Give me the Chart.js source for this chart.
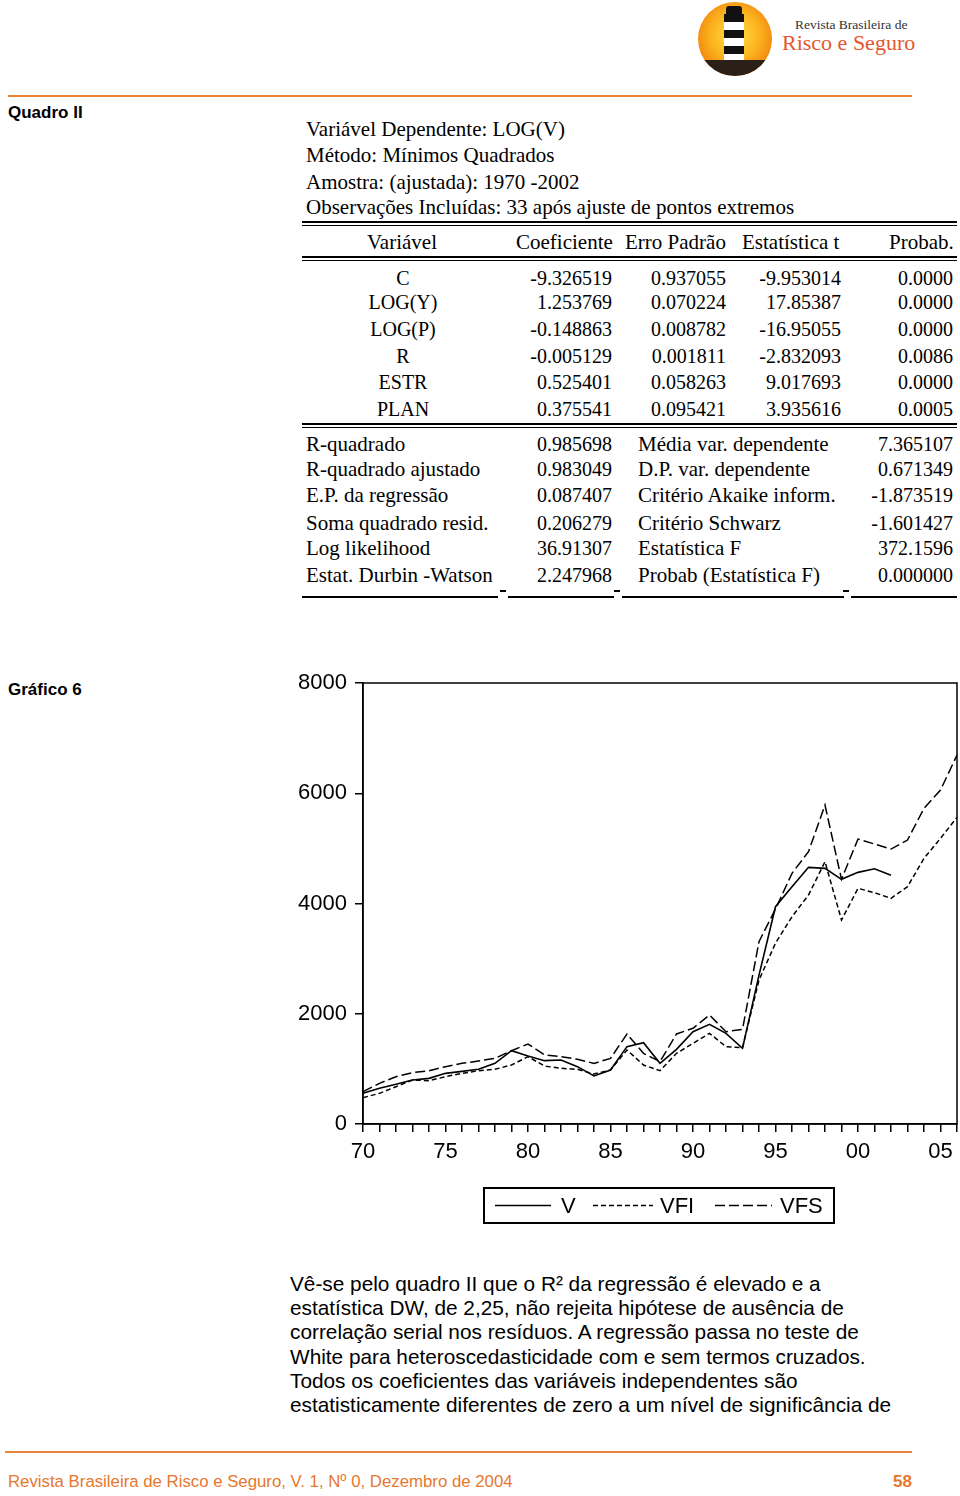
<!DOCTYPE html>
<html>
<head>
<meta charset="utf-8">
<script src="https://cdn.jsdelivr.net/npm/chart.js@4.4.1/dist/chart.umd.min.js"></script>
<style>
  body { margin: 0; width: 960px; height: 1496px; background: #fff; position: relative; overflow: hidden; font-family: "Liberation Sans", Arial, sans-serif; color: #000; }
  .abs { position: absolute; white-space: nowrap; }
  .rule { position: absolute; background: #e8833a; height: 2px; }
  .bold { font-weight: bold; font-size: 17px; }
  .tbl { font-family: "Liberation Serif", "Times New Roman", serif; font-size: 20px; line-height: 22px; }
  .txt { font-size: 21px; }
  .r { text-align: right; }
  .c { text-align: center; }
  .hl { position: absolute; background: #000; height: 2px; }
  .para { font-size: 20.8px; line-height: 24.2px; }
  #logo { position: absolute; left: 698px; top: 2px; width: 74px; height: 74px; border-radius: 50%; background: radial-gradient(circle at 50% 45%, #ffe04a 0%, #fbb21c 45%, #ef7d0f 80%, #5a2a0a 100%); overflow: hidden; }
  #logo .tower { position: absolute; left: 26px; top: 12px; width: 20px; height: 52px; background: repeating-linear-gradient(#111 0 8px, #fff 8px 16px); }
  #logo .lamp { position: absolute; left: 28px; top: 4px; width: 16px; height: 10px; background: #111; border-radius: 3px 3px 0 0; }
  #logo .rock { position: absolute; left: 0; top: 58px; width: 74px; height: 20px; background: #2a2018; }
  #chartBox { position: absolute; left: 280px; top: 660px; width: 680px; height: 580px; }
</style>
</head>
<body>
<div id="logo"><div class="lamp"></div><div class="tower"></div><div class="rock"></div></div>
<div class="abs" style="left:795px;top:17px;font-family:'Liberation Serif',serif;font-size:13.5px;color:#333;">Revista Brasileira de</div>
<div class="abs" style="left:782px;top:30px;font-family:'Liberation Serif',serif;font-size:22px;color:#e4572e;">Risco e Seguro</div>
<div class="rule" style="left:8px;top:95px;width:904px;"></div>

<div class="abs bold" style="left:8px;top:103px;">Quadro II</div>

<div class="abs tbl txt" style="left:306px;top:118px;">Variável Dependente: LOG(V)</div>
<div class="abs tbl txt" style="left:306px;top:144px;">Método: Mínimos Quadrados</div>
<div class="abs tbl txt" style="left:306px;top:171px;">Amostra: (ajustada): 1970 -2002</div>
<div class="abs tbl txt" style="left:306px;top:196px;">Observações Incluídas: 33 após ajuste de pontos extremos</div>

<div class="hl" style="left:302px;top:221px;width:655px;"></div>
<div class="hl" style="left:302px;top:225px;width:655px;height:1px;"></div>
<div class="abs tbl txt" style="left:367px;top:231px;">Variável</div>
<div class="abs tbl txt" style="left:516px;top:231px;">Coeficiente</div>
<div class="abs tbl txt" style="left:625px;top:231px;">Erro Padrão</div>
<div class="abs tbl txt" style="left:742px;top:231px;">Estatística t</div>
<div class="abs tbl txt" style="left:889px;top:231px;">Probab.</div>
<div class="hl" style="left:302px;top:256px;width:655px;"></div>
<div class="hl" style="left:302px;top:260px;width:655px;height:1px;"></div>

<div id="coefRows"></div>

<div class="hl" style="left:302px;top:423px;width:655px;"></div>
<div class="hl" style="left:302px;top:427px;width:655px;height:1px;"></div>

<div id="statRows"></div>

<div class="hl" style="left:302px;top:596px;width:196px;height:1.5px;"></div>
<div class="hl" style="left:508px;top:596px;width:106px;height:1.5px;"></div>
<div class="hl" style="left:622px;top:596px;width:222px;height:1.5px;"></div>
<div class="hl" style="left:851px;top:596px;width:106px;height:1.5px;"></div>
<div class="hl" style="left:500px;top:590px;width:6px;height:1.5px;"></div>
<div class="hl" style="left:614px;top:590px;width:6px;height:1.5px;"></div>
<div class="hl" style="left:843px;top:590px;width:6px;height:1.5px;"></div>

<div class="abs bold" style="left:8px;top:680px;">Gráfico 6</div>

<div id="chartBox"><canvas id="chart"></canvas></div>

<div class="abs para" style="left:290px;top:1272px;">Vê-se pelo quadro II que o R² da regressão é elevado e a<br>estatística DW, de 2,25, não rejeita hipótese de ausência de<br>correlação serial nos resíduos. A regressão passa no teste de<br>White para heteroscedasticidade com e sem termos cruzados.<br>Todos os coeficientes das variáveis independentes são<br>estatisticamente diferentes de zero a um nível de significância de</div>

<div class="rule" style="left:5px;top:1451px;width:907px;"></div>
<div class="abs" style="left:8px;top:1472px;font-size:16.8px;color:#e8772e;">Revista Brasileira de Risco e Seguro, V. 1, Nº 0, Dezembro de 2004</div>
<div class="abs" style="left:893px;top:1472px;font-size:17px;font-weight:bold;color:#e8772e;">58</div>

<script>
// regression table (Quadro II)
const coefNames = ['C', 'LOG(Y)', 'LOG(P)', 'R', 'ESTR', 'PLAN'];
const coefValues = ['-9.326519', '1.253769', '-0.148863', '-0.005129', '0.525401', '0.375541'];
const stdErrors = ['0.937055', '0.070224', '0.008782', '0.001811', '0.058263', '0.095421'];
const tStats = ['-9.953014', '17.85387', '-16.95055', '-2.832093', '9.017693', '3.935616'];
const probs = ['0.0000', '0.0000', '0.0000', '0.0086', '0.0000', '0.0005'];

const statLabelsLeft = ['R-quadrado', 'R-quadrado ajustado', 'E.P. da regressão', 'Soma quadrado resid.', 'Log likelihood', 'Estat. Durbin -Watson'];
const statValuesLeft = ['0.985698', '0.983049', '0.087407', '0.206279', '36.91307', '2.247968'];
const statLabelsRight = ['Média var. dependente', 'D.P. var. dependente', 'Critério Akaike inform.', 'Critério Schwarz', 'Estatística F', 'Probab (Estatística F)'];
const statValuesRight = ['7.365107', '0.671349', '-1.873519', '-1.601427', '372.1596', '0.000000'];

// Gráfico 6 data
const years = [1970, 1971, 1972, 1973, 1974, 1975, 1976, 1977, 1978, 1979,
               1980, 1981, 1982, 1983, 1984, 1985, 1986, 1987, 1988, 1989,
               1990, 1991, 1992, 1993, 1994, 1995, 1996, 1997, 1998, 1999,
               2000, 2001, 2002, 2003, 2004, 2005, 2006];
const seriesV = [556, 647, 720, 798, 828, 919, 955, 992, 1100, 1330,
                 1233, 1149, 1161, 1040, 871, 980, 1403, 1475, 1100, 1355,
                 1675, 1808, 1645, 1373, 2700, 3942, 4305, 4656, 4638, 4438,
                 4565, 4631, 4511, null, null, null, null];
const seriesVFI = [478, 556, 677, 798, 786, 858, 919, 967, 992, 1070,
                   1221, 1052, 1010, 992, 907, 980, 1342, 1070, 967, 1282,
                   1463, 1645, 1403, 1385, 2612, 3280, 3761, 4154, 4758, 3700,
                   4275, 4196, 4094, 4305, 4819, 5182, 5563];
const seriesVFS = [586, 738, 858, 931, 967, 1040, 1100, 1143, 1191, 1330,
                   1451, 1252, 1221, 1173, 1100, 1191, 1633, 1282, 1131, 1633,
                   1736, 1977, 1675, 1717, 3307, 3900, 4547, 4940, 5786, 4438,
                   5169, 5079, 4988, 5151, 5726, 6058, 6693];
const yTicks = [0, 2000, 4000, 6000, 8000];

const coefRows = document.getElementById('coefRows');
const coefTops = [267, 291, 318, 345, 371, 398];
coefNames.forEach((name, i) => {
    const t = coefTops[i];
    coefRows.innerHTML += `
        <div class="abs tbl c" style="left:353px;top:${t}px;width:100px;">${name}</div>
        <div class="abs tbl r" style="left:492px;top:${t}px;width:120px;">${coefValues[i]}</div>
        <div class="abs tbl r" style="left:606px;top:${t}px;width:120px;">${stdErrors[i]}</div>
        <div class="abs tbl r" style="left:721px;top:${t}px;width:120px;">${tStats[i]}</div>
        <div class="abs tbl r" style="left:833px;top:${t}px;width:120px;">${probs[i]}</div>`;
});

const statRows = document.getElementById('statRows');
const statTops = [433, 458, 484, 512, 537, 564];
statLabelsLeft.forEach((label, i) => {
    const t = statTops[i];
    statRows.innerHTML += `
        <div class="abs tbl txt" style="left:306px;top:${t}px;">${label}</div>
        <div class="abs tbl r" style="left:492px;top:${t}px;width:120px;">${statValuesLeft[i]}</div>
        <div class="abs tbl txt" style="left:638px;top:${t}px;">${statLabelsRight[i]}</div>
        <div class="abs tbl r" style="left:833px;top:${t}px;width:120px;">${statValuesRight[i]}</div>`;
});

Chart.defaults.font.family = '"Liberation Sans", Arial, sans-serif';
Chart.defaults.color = '#000';

// box around the plot area
const frame = {
    id: 'frame',
    afterDraw(chart) {
        const { ctx, chartArea: a } = chart;
        ctx.save();
        ctx.strokeStyle = '#000';
        ctx.lineWidth = 1.5;
        ctx.strokeRect(a.left, a.top, a.right - a.left, a.bottom - a.top);
        ctx.restore();
    }
};

// EViews style legend box under the axis
const boxLegend = {
    id: 'boxLegend',
    afterDraw(chart) {
        const ctx = chart.ctx;
        const x0 = 204, y0 = 528, w = 350, h = 35;
        const items = [
            { lx: 215, len: 56, tx: 281 },
            { lx: 313, len: 60, tx: 380 },
            { lx: 435, len: 57, tx: 500 }
        ];
        ctx.save();
        ctx.strokeStyle = '#000';
        ctx.lineWidth = 2;
        ctx.strokeRect(x0, y0, w, h);
        ctx.font = '22px "Liberation Sans", Arial, sans-serif';
        ctx.fillStyle = '#000';
        ctx.textBaseline = 'middle';
        chart.data.datasets.forEach((ds, i) => {
            const it = items[i];
            const y = y0 + h / 2;
            ctx.beginPath();
            ctx.lineWidth = ds.borderWidth;
            ctx.setLineDash(ds.borderDash || []);
            ctx.moveTo(it.lx, y);
            ctx.lineTo(it.lx + it.len, y);
            ctx.stroke();
            ctx.setLineDash([]);
            ctx.fillText(ds.label, it.tx, y + 1);
        });
        ctx.restore();
    }
};

new Chart(document.getElementById('chart'), {
    type: 'line',
    data: {
        labels: years,
        datasets: [
            { label: 'V', data: seriesV, borderColor: '#000', borderWidth: 1.6, borderDash: [], pointRadius: 0, tension: 0, spanGaps: false },
            { label: 'VFI', data: seriesVFI, borderColor: '#000', borderWidth: 1.5, borderDash: [5, 3], pointRadius: 0, tension: 0 },
            { label: 'VFS', data: seriesVFS, borderColor: '#000', borderWidth: 1.5, borderDash: [10, 4], pointRadius: 0, tension: 0 }
        ]
    },
    options: {
        responsive: true,
        maintainAspectRatio: false,
        animation: false,
        layout: { padding: { top: 23, right: 3, left: 0, bottom: 80 } },
        plugins: { legend: { display: false }, tooltip: { enabled: false } },
        scales: {
            x: {
                type: 'category',
                offset: false,
                grid: { drawOnChartArea: false, drawTicks: true, tickLength: 8, color: '#000', lineWidth: 1.5 },
                border: { color: '#000', width: 1.5 },
                ticks: {
                    autoSkip: false,
                    maxRotation: 0,
                    padding: 7,
                    font: { size: 22 },
                    callback(value) {
                        const yr = this.getLabelForValue(value);
                        return yr % 5 === 0 ? String(yr).slice(2) : '';
                    }
                },
                afterFit(scale) {
                    scale.height = 36;
                    scale.paddingLeft = 0;
                    scale.paddingRight = 0;
                }
            },
            y: {
                min: 0,
                max: 8000,
                afterBuildTicks(scale) { scale.ticks = yTicks.map(v => ({ value: v })); },
                grid: { drawOnChartArea: false, drawTicks: true, tickLength: 8, color: '#000', lineWidth: 1.5 },
                border: { color: '#000', width: 1.5 },
                ticks: { padding: 8, font: { size: 22 }, callback: v => String(v) },
                afterFit(scale) { scale.width = 83; }
            }
        }
    },
    plugins: [frame, boxLegend]
});
</script>
</body>
</html>
